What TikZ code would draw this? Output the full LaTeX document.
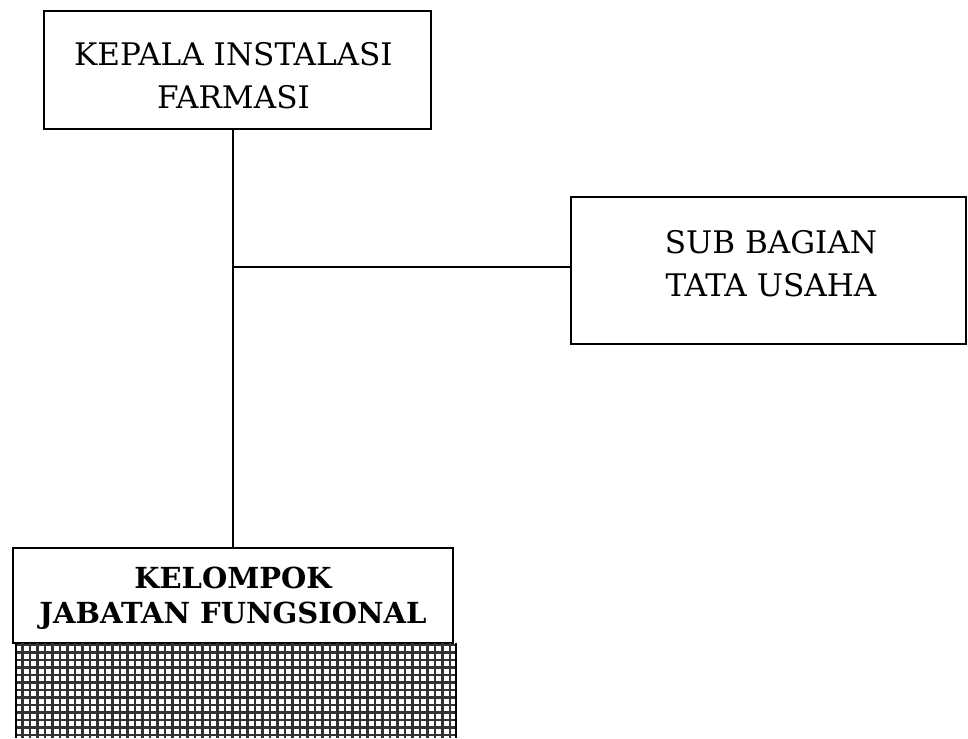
\documentclass[tikz,border=0pt]{standalone}
\usepackage{fontspec}
\setmainfont{DejaVu Serif}
\usetikzlibrary{positioning,calc}
\tikzset{
  unit/.style={draw=black, line width=0.6pt, fill=white, inner sep=0pt},
  unittext/.style={align=center, inner sep=0pt, font=\fontsize{8.85}{12.2}\selectfont},
  grouptext/.style={unittext, font=\fontsize{8.25}{10}\selectfont\bfseries},
  link/.style={draw=black, line width=0.6pt}
}

\begin{document}
\begin{tikzpicture}
    \useasboundingbox (0,0) rectangle (9.68,-7.38);

    \node[unit, minimum width=3.87cm, minimum height=1.18cm,
      label={[unittext, xshift=-0.04cm, yshift=-0.06cm]center:{KEPALA INSTALASI\\FARMASI}}] (kepala) at (2.375,-0.70) {};
    \node[unit, minimum width=3.95cm, minimum height=1.47cm,
      label={[unittext, xshift=0.025cm, yshift=0.07cm]center:{SUB BAGIAN\\TATA USAHA}}] (subbag) at (7.685,-2.705) {};
    \node[unit, minimum width=4.40cm, minimum height=0.95cm,
      label={[grouptext, yshift=-0.03cm]center:{KELOMPOK\\JABATAN FUNGSIONAL}}] (kjf) at (2.33,-5.955) {};

    \coordinate (jn) at ($(kjf.north |- subbag.west)+(0,0.035)$);

    \draw[link] (kepala.south -| kjf.north) -- (kjf.north);
    \draw[link] (jn) -- (jn -| subbag.west);

    % hatched block under the group box
    \begin{scope}
      \clip (0.16,-6.43) rectangle (4.56,-7.38);
      \draw[black!80, line width=0.6pt, step=0.075] (0.16,-6.43) grid (4.56,-7.38);
    \end{scope}
    \draw[black, line width=0.8pt] (0.16,-6.43) -- (0.16,-7.38);
    \draw[black, line width=0.8pt] (4.56,-6.43) -- (4.56,-7.38);

  \end{tikzpicture}
\end{document}
